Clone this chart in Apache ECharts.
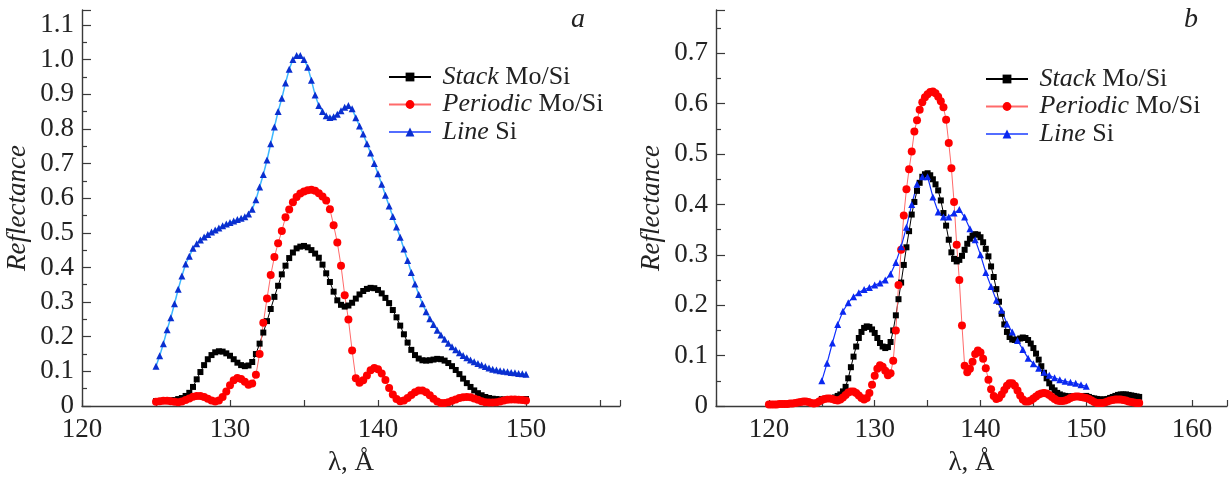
<!DOCTYPE html>
<html><head><meta charset="utf-8">
<script src="https://cdn.jsdelivr.net/npm/echarts@6/dist/echarts.min.js"></script>
<style>html,body{margin:0;padding:0;background:#fff}#c{width:1230px;height:481px}</style>
</head><body><div id="c"></div>
<script>
// ---- data (reflectance vs wavelength, Å) ----
const stackStart = 125, stackStep = 0.25;           // 125 .. 155
const stackMoSi = [
0.014,0.014,0.015,0.015, 0.016,0.017,0.020,0.023, 0.029,0.038,0.055,0.077,
0.098,0.118,0.135,0.147, 0.155,0.158,0.157,0.152, 0.145,0.135,0.125,0.118,
0.115,0.117,0.127,0.150, 0.180,0.212,0.245,0.280, 0.315,0.347,0.380,0.405,
0.427,0.443,0.455,0.460, 0.462,0.458,0.450,0.440, 0.428,0.408,0.383,0.358,
0.330,0.305,0.292,0.287, 0.290,0.298,0.310,0.322, 0.332,0.338,0.341,0.340,
0.335,0.325,0.312,0.297, 0.277,0.256,0.232,0.207, 0.183,0.162,0.147,0.137,
0.132,0.131,0.132,0.134, 0.136,0.135,0.131,0.124, 0.115,0.104,0.092,0.079,
0.066,0.055,0.045,0.037, 0.031,0.026,0.023,0.021, 0.020,0.019,0.019,0.019,
0.019,0.019,0.019,0.019, 0.020,0.018,0.016,0.015, 0.014,0.013,0.013,0.013,
0.014,0.016,0.018,0.020, 0.022,0.023,0.023,0.023, 0.022,0.021,0.020,0.019,
0.018];
const periodicStart = 120, periodicStep = 0.25;     // 120 .. 155
const periodicMoSi = [
0.003,0.003,0.003,0.003, 0.004,0.004,0.004,0.004, 0.005,0.005,0.006,0.007,
0.008,0.009,0.009,0.008, 0.006,0.005,0.006,0.009, 0.012,0.014,0.015,0.015,
0.014,0.012,0.011,0.013, 0.017,0.022,0.027,0.029, 0.029,0.026,0.021,0.016,
0.013,0.016,0.026,0.042, 0.060,0.074,0.081,0.078, 0.070,0.061,0.065,0.090,
0.150,0.240,0.310,0.378, 0.430,0.470,0.505,0.545, 0.567,0.588,0.603,0.613,
0.619,0.623,0.624,0.621, 0.614,0.605,0.593,0.568, 0.522,0.472,0.405,0.320,
0.250,0.160,0.080,0.067, 0.074,0.088,0.103,0.110, 0.106,0.094,0.075,0.052,
0.033,0.020,0.014,0.016, 0.023,0.032,0.040,0.045, 0.045,0.040,0.031,0.021,
0.013,0.009,0.009,0.011, 0.015,0.019,0.023,0.025, 0.026,0.025,0.022,0.018,
0.014,0.011,0.010,0.010, 0.011,0.013,0.016,0.018, 0.019,0.019,0.018,0.017,
0.016,0.014,0.011,0.008, 0.006,0.006,0.006,0.007, 0.009,0.011,0.012,0.013,
0.013,0.013,0.012,0.011, 0.009,0.008,0.007,0.006, 0.006];
const lineSiNormStart = 125, lineSiNormStep = 0.25;  // panel a, 125 .. 150
const lineSiNorm = [
0.115,0.145,0.180,0.220, 0.255,0.295,0.337,0.375, 0.410,0.432,0.455,0.468,
0.479,0.488,0.495,0.502, 0.508,0.514,0.520,0.525, 0.530,0.534,0.538,0.542,
0.546,0.554,0.568,0.595, 0.632,0.668,0.710,0.757, 0.805,0.850,0.888,0.932,
0.972,1.000,1.012,1.012, 1.000,0.978,0.940,0.898, 0.867,0.850,0.838,0.833,
0.835,0.842,0.852,0.862, 0.867,0.858,0.832,0.808, 0.785,0.757,0.730,0.700,
0.670,0.640,0.608,0.577, 0.547,0.517,0.487,0.453, 0.420,0.385,0.352,0.322,
0.295,0.272,0.252,0.235, 0.219,0.205,0.193,0.181, 0.171,0.162,0.154,0.146,
0.139,0.133,0.128,0.123, 0.118,0.114,0.110,0.106, 0.104,0.102,0.100,0.099,
0.097,0.096,0.094,0.093, 0.092];
const lineSiStart = 125, lineSiStep = 0.5;          // panel b, 125 .. 150
const lineSi = [
0.050,0.085, 0.125,0.162, 0.188,0.205, 0.217,0.225, 0.231,0.235,
0.240,0.244, 0.250,0.262, 0.285,0.316, 0.355,0.400, 0.440,0.455,
0.455,0.415, 0.385,0.375, 0.375,0.383, 0.390,0.375, 0.352,0.330,
0.300,0.265, 0.237,0.210, 0.190,0.163, 0.147,0.130, 0.112,0.095,
0.084,0.075, 0.067,0.061, 0.056,0.052, 0.049,0.047, 0.045,0.042,
0.039];
const xLabelsA = [120, 130, 140, 150];
const xLabelsB = [120, 130, 140, 150, 160];
const yLabelsA = ['0','0.1','0.2','0.3','0.4','0.5','0.6','0.7','0.8','0.9','1.0','1.1'];
const yLabelsB = ['0','0.1','0.2','0.3','0.4','0.5','0.6','0.7'];
const seriesNames = ['Stack', 'Periodic', 'Line'];
const seriesSuffix = [' Mo/Si', ' Mo/Si', ' Si'];
const panelLetters = ['a', 'b'];

// ---- build ----
function pairs(start, step, vals, from, to) {
  const out = [];
  vals.forEach((v, i) => { const x = +(start + i * step).toFixed(3); if (x >= from - 1e-9 && x <= to + 1e-9) out.push([x, v]); });
  return out;
}
const font = '"Liberation Serif","Times New Roman",serif';
const txt = '#222', axc = '#3a3a3a';
const FS = 27;

function xAxis(gi, min, max, labels) {
  return {
    type: 'value', gridIndex: gi, min, max, interval: 5,
    axisLine: { onZero: false, lineStyle: { color: axc, width: 1.4 } },
    axisTick: { inside: true, length: 6, lineStyle: { color: axc, width: 1.2 } },
    splitLine: { show: false },
    axisLabel: {
      margin: 10, fontFamily: font, fontSize: FS, color: txt, showMaxLabel: true,
      formatter: v => { const r = Math.round(v); return (Math.abs(v - r) < 1e-6 && labels.includes(r)) ? String(r) : ''; }
    },
    name: 'λ, Å', nameLocation: 'middle', nameGap: 43,
    nameTextStyle: { fontFamily: font, fontSize: FS, color: txt }
  };
}
function yAxis(gi, max, labels) {
  return {
    type: 'value', gridIndex: gi, min: 0, max, interval: 0.1,
    axisLine: { show: true, onZero: false, lineStyle: { color: axc, width: 1.4 } },
    axisTick: { inside: true, length: 9, lineStyle: { color: axc, width: 1.2 } },
    minorTick: { show: true, splitNumber: 2, length: 5, lineStyle: { color: axc, width: 1.2 } },
    splitLine: { show: false }, minorSplitLine: { show: false },
    axisLabel: {
      margin: 8, fontFamily: font, fontSize: FS, color: txt,
      formatter: v => { const s = Math.abs(v) < 1e-9 ? '0' : (Math.round(v * 10) / 10).toFixed(1); return (Math.abs(v * 10 - Math.round(v * 10)) < 1e-6 && labels.includes(s)) ? s : ''; }
    },
    name: 'Reflectance', nameLocation: 'middle', nameGap: 51, nameRotate: 90,
    nameTextStyle: { fontFamily: font, fontSize: FS, fontStyle: 'italic', color: txt }
  };
}
const styles = [
  { symbol: 'rect', symbolSize: 6, itemStyle: { color: '#000' }, lineStyle: { color: '#000', width: 1 } },
  { symbol: 'circle', symbolSize: 8, itemStyle: { color: '#ff0000' }, lineStyle: { color: '#ff6a6a', width: 1 } },
  { symbol: 'triangle', symbolSize: 7, itemStyle: { color: '#0a2fd0' }, lineStyle: { color: '#3cb8ff', width: 1.5 } },
  { symbol: 'triangle', symbolSize: 7, itemStyle: { color: '#0a28f0' }, lineStyle: { color: '#1030ff', width: 1.2 } }
];
function mk(name, gi, data, st) {
  return Object.assign({ type: 'line', name, xAxisIndex: gi, yAxisIndex: gi, data, showAllSymbol: true, silent: true, z: 2 }, st);
}
const namesA = seriesNames.map((n, i) => n + seriesSuffix[i]);
const namesB = namesA.map(n => n + ' ');
const series = [
  mk(namesA[0], 0, pairs(stackStart, stackStep, stackMoSi, 125, 150), styles[0]),
  mk(namesA[1], 0, pairs(periodicStart, periodicStep, periodicMoSi, 125, 150), styles[1]),
  mk(namesA[2], 0, pairs(lineSiNormStart, lineSiNormStep, lineSiNorm, 125, 150), styles[2]),
  mk(namesB[0], 1, pairs(stackStart, stackStep, stackMoSi, 125, 155), styles[0]),
  mk(namesB[1], 1, pairs(periodicStart, periodicStep, periodicMoSi, 120, 155), styles[1]),
  mk(namesB[2], 1, pairs(lineSiStart, lineSiStep, lineSi, 125, 150), styles[3])
];
const LFS = 26;
const rich = { i: { fontFamily: font, fontSize: LFS, fontStyle: 'italic', color: txt, lineHeight: 24 },
               n: { fontFamily: font, fontSize: LFS, color: txt, lineHeight: 24 } };
function legendFmt(name) {
  const k = namesA.indexOf(name.trim());
  return ' {i|' + seriesNames[k] + '}{n|' + seriesSuffix[k] + '}';
}
function legend(names, left, top) {
  return {
    orient: 'vertical', left, top, itemWidth: 42, itemHeight: 11, itemGap: 1.5,
    data: names.map(n => ({ name: n, lineStyle: n.indexOf('Line') === 0 ? { color: '#1a3cff', width: 1.5 } : undefined })),
    formatter: legendFmt, selectedMode: false,
    textStyle: { fontFamily: font, fontSize: LFS, color: txt, lineHeight: 24, rich }
  };
}
const option = {
  animation: false,
  backgroundColor: '#fff',
  grid: [
    { left: 82, top: 10, width: 538, height: 400 },
    { left: 716, top: 10, width: 514, height: 401 }
  ],
  xAxis: [xAxis(0, 120, 156.35, xLabelsA), xAxis(1, 115, 163.3, xLabelsB)],
  yAxis: [yAxis(0, 1.143, yLabelsA), yAxis(1, 0.786, yLabelsB)],
  legend: [legend(namesA, 383, 59), legend(namesB, 980, 61)],
  graphic: [
    { type: 'text', left: 571, top: 6, style: { text: panelLetters[0], fontFamily: font, fontSize: 28, fontStyle: 'italic', fill: txt } },
    { type: 'text', left: 1184, top: 6, style: { text: panelLetters[1], fontFamily: font, fontSize: 28, fontStyle: 'italic', fill: txt } }
  ],
  series
};
const chart = echarts.init(document.getElementById('c'), null, { renderer: 'canvas' });
chart.setOption(option);
</script></body></html>
